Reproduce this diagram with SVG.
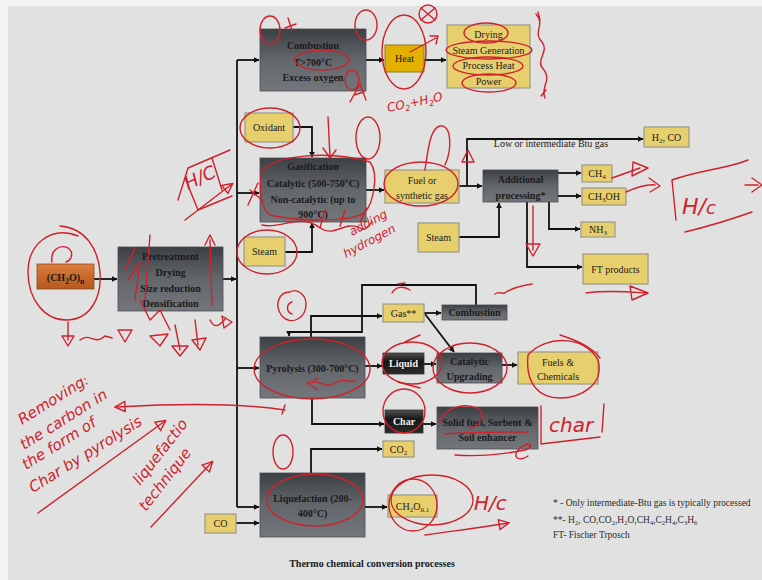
<svg xmlns="http://www.w3.org/2000/svg" width="762" height="580" viewBox="0 0 762 580">
<defs>
<linearGradient id="gDark" x1="0" y1="0" x2="0" y2="1">
<stop offset="0" stop-color="#3c4045"/>
<stop offset="0.5" stop-color="#63676c"/>
<stop offset="1" stop-color="#73777b"/>
</linearGradient>
<linearGradient id="gBlack" x1="0" y1="0" x2="0" y2="1">
<stop offset="0" stop-color="#505050"/>
<stop offset="0.4" stop-color="#161616"/>
<stop offset="1" stop-color="#2c2c2c"/>
</linearGradient>
<linearGradient id="gOrange" x1="0" y1="0" x2="0" y2="1">
<stop offset="0" stop-color="#dd8040"/>
<stop offset="0.5" stop-color="#c9692b"/>
<stop offset="1" stop-color="#b55a22"/>
</linearGradient>
<marker id="ah" viewBox="0 0 10 10" refX="9" refY="5" markerWidth="6" markerHeight="6" markerUnits="userSpaceOnUse" orient="auto">
<path d="M0,0 L10,5 L0,10 z" fill="#111"/>
</marker>
<marker id="rh" viewBox="0 0 12 12" refX="10" refY="6" markerWidth="12" markerHeight="12" markerUnits="userSpaceOnUse" orient="auto">
<path d="M1,1 L11,6 L1,11 z" fill="none" stroke="#d0212b" stroke-width="1.4"/>
</marker>
</defs>
<style>
.dk{fill:url(#gDark);stroke:#4a4d52;stroke-width:0.8}
.bk{fill:url(#gBlack);stroke:#333;stroke-width:0.8}
.yl{fill:#e8cf6d;stroke:#9a9888;stroke-width:1.2}
.t{font-family:"Liberation Serif","Times New Roman",serif;font-size:10px;text-anchor:middle;fill:#1a1a1a}
.b{font-weight:bold}
.w{fill:#f2f2f2}
.c{fill:none;stroke:#111;stroke-width:1.8;marker-end:url(#ah)}
.ln{fill:none;stroke:#111;stroke-width:1.8}
.r{fill:none;stroke:#d0212b;stroke-width:1.4;stroke-linecap:round;stroke-linejoin:round}
.ra{fill:none;stroke:#d0212b;stroke-width:1.4;stroke-linecap:round;marker-end:url(#rh)}
.rt{font-family:"DejaVu Sans","Liberation Sans",sans-serif;fill:#d0212b;font-style:italic}
.fn{font-family:"Liberation Serif","Times New Roman",serif;font-size:9.5px;fill:#2a2a2a}
</style>
<rect x="0" y="0" width="762" height="580" fill="#f4f4f4"/>
<rect x="8" y="6" width="754" height="574" fill="#e1e1e1"/>

<g id="connectors">
<path class="c" d="M94,279 H117"/>
<path class="c" d="M223,279 H236"/>
<path class="ln" d="M237,60 V507"/>
<path class="c" d="M237,60 H259"/>
<path class="c" d="M237,193 H259"/>
<path class="c" d="M237,368 H259"/>
<path class="c" d="M237,507 H259"/>
<path class="c" d="M236,523 H259"/>
<path class="c" d="M366,60 H384"/>
<path class="c" d="M424,60 H446"/>
<path class="c" d="M293,127 H312 V157"/>
<path class="c" d="M285,252 H312 V223"/>
<path class="c" d="M366,190 H384"/>
<path class="c" d="M459,186 H482"/>
<path class="c" d="M467,186 V139 H643"/>
<path class="c" d="M558,173 H581"/>
<path class="c" d="M558,196 H581"/>
<path class="c" d="M549,202 V229 H580"/>
<path class="c" d="M527,202 V267 H582"/>
<path class="c" d="M459,237 H499 V203"/>
<path class="c" d="M311,337 V316 H382"/>
<path class="c" d="M476,305 V285 H362 V332 H289 V336"/>
<path class="c" d="M424,313 H441"/>
<path class="c" d="M425,314 L454,352"/>
<path class="c" d="M365,366 H382"/>
<path class="c" d="M424,364 H436"/>
<path class="c" d="M502,365 H517"/>
<path class="c" d="M312,398 V424 H384"/>
<path class="c" d="M423,424 H436"/>
<path class="c" d="M311,473 V449 H382"/>
<path class="c" d="M365,507 H387"/>
</g>

<g id="feed"><rect x="37" y="264" width="57" height="25" fill="url(#gOrange)" stroke="#8a4a1c" stroke-width="0.8"/>
<text class="t b" x="65.5" y="281" font-size="11">(CH<tspan font-size="7.5" dy="2.5">2</tspan><tspan dy="-2.5">O)</tspan><tspan font-size="7.5" dy="2.5">n</tspan></text></g>
<g id="pretreatment"><rect class="dk" x="118" y="247" width="105" height="64"/>
<text class="t b" x="170.5" y="260">Pretreatment</text><text class="t b" x="170.5" y="276">Drying</text><text class="t b" x="170.5" y="291.5">Size reduction</text><text class="t b" x="170.5" y="307">Densification</text></g>
<g id="combustion"><rect class="dk" x="260" y="29" width="106" height="62"/>
<text class="t b" x="313" y="49">Combustion</text><text class="t b" x="313" y="65.5">T&gt;700°C</text><text class="t b" x="313" y="81">Excess oxygen</text></g>
<g id="heat"><rect x="385" y="45" width="39" height="27" fill="#e2b000" stroke="#8c7a20" stroke-width="1"/><text class="t" x="404.5" y="62">Heat</text></g>
<g id="uses"><rect class="yl" x="447" y="25" width="83" height="63"/>
<text class="t" x="488.5" y="38">Drying</text><text class="t" x="488.5" y="54">Steam Generation</text><text class="t" x="488.5" y="68.5">Process Heat</text><text class="t" x="488.5" y="85">Power</text></g>
<g id="oxidant"><rect class="yl" x="245" y="113" width="48" height="29"/><text class="t" x="269" y="131">Oxidant</text></g>
<g id="gasification"><rect class="dk" x="260" y="158" width="106" height="64"/>
<text class="t b" x="313" y="170">Gasification</text><text class="t b" x="313" y="187">Catalytic (500-750°C)</text><text class="t b" x="313" y="203">Non-catalytic (up to</text><text class="t b" x="313" y="218">900°C)</text></g>
<g id="steam1"><rect class="yl" x="244" y="237" width="41" height="29"/><text class="t" x="264.5" y="255">Steam</text></g>
<g id="fuelgas"><rect class="yl" x="385" y="170" width="74" height="33"/><text class="t" x="422" y="184">Fuel or</text><text class="t" x="422" y="199">synthetic gas</text></g>
<g id="additional"><rect class="dk" x="483" y="170" width="75" height="32"/><text class="t b" x="520.5" y="183">Additional</text><text class="t b" x="520.5" y="198.5">processing*</text></g>
<g id="h2co"><rect class="yl" x="644" y="127" width="45" height="20"/><text class="t" x="666.5" y="141">H<tspan font-size="7" dy="2">2</tspan><tspan dy="-2">, CO</tspan></text></g>
<g id="ch4"><rect class="yl" x="582" y="165" width="30" height="17"/><text class="t" x="597" y="177">CH<tspan font-size="7" dy="2">4</tspan></text></g>
<g id="ch3oh"><rect class="yl" x="582" y="188" width="44" height="17"/><text class="t" x="604" y="200">CH<tspan font-size="7" dy="2">3</tspan><tspan dy="-2">OH</tspan></text></g>
<g id="nh3"><rect class="yl" x="581" y="222" width="34" height="15"/><text class="t" x="598" y="233">NH<tspan font-size="7" dy="2">3</tspan></text></g>
<g id="ft"><rect class="yl" x="583" y="254" width="65" height="30"/><text class="t" x="615.5" y="273">FT products</text></g>
<g id="steam2"><rect class="yl" x="418" y="223" width="41" height="29"/><text class="t" x="438.5" y="241">Steam</text></g>
<g id="pyrolysis"><rect class="dk" x="260" y="337" width="105" height="61"/><text class="t b" x="312.5" y="372">Pyrolysis (300-700°C)</text></g>
<g id="gas"><rect class="yl" x="383" y="304" width="41" height="18"/><text class="t" x="403.5" y="317">Gas**</text></g>
<g id="combustion2"><rect class="dk" x="442" y="305" width="65" height="15"/><text class="t b" x="474.5" y="316">Combustion</text></g>
<g id="liquid"><rect class="bk" x="383" y="353" width="41" height="21"/><text class="t b w" x="403.5" y="367">Liquid</text></g>
<g id="upgrading"><rect class="dk" x="437" y="353" width="65" height="30"/><text class="t b" x="469.5" y="365">Catalytic</text><text class="t b" x="469.5" y="380">Upgrading</text></g>
<g id="fuels"><rect class="yl" x="518" y="352" width="80" height="32"/><text class="t" x="558" y="365.5">Fuels &amp;</text><text class="t" x="558" y="380">Chemicals</text></g>
<g id="char"><rect class="bk" x="385" y="410" width="38" height="23"/><text class="t b w" x="404" y="425">Char</text></g>
<g id="solid"><rect class="dk" x="437" y="407" width="101" height="42"/><text class="t b" x="487.5" y="426">Solid fuel, Sorbent &amp;</text><text class="t b" x="487.5" y="441">Soil enhancer</text></g>
<g id="co2"><rect class="yl" x="383" y="441" width="31" height="16"/><text class="t" x="398.5" y="453">CO<tspan font-size="7" dy="2">2</tspan></text></g>
<g id="liquefaction"><rect class="dk" x="260" y="473" width="105" height="64"/><text class="t b" x="312.5" y="502">Liquefaction (200-</text><text class="t b" x="312.5" y="517">400°C)</text></g>
<g id="co"><rect class="yl" x="205" y="514" width="31" height="19"/><text class="t" x="220.5" y="527">CO</text></g>
<g id="ch2o01"><rect class="yl" x="388" y="495" width="49" height="22"/><text class="t" x="412.5" y="510">CH<tspan font-size="7" dy="2">2</tspan><tspan dy="-2">O</tspan><tspan font-size="7" dy="2">0.1</tspan></text></g>

<g id="labels">
<text class="t" x="551" y="147" font-size="9.5" fill="#444">Low or intermediate Btu gas</text>
<text class="fn" x="553" y="506">*  - Only intermediate-Btu gas is typically processed</text>
<text class="fn" x="553" y="523">**- H<tspan font-size="6.5" dy="2">2</tspan><tspan dy="-2">, CO,CO</tspan><tspan font-size="6.5" dy="2">2</tspan><tspan dy="-2">,H</tspan><tspan font-size="6.5" dy="2">2</tspan><tspan dy="-2">O,CH</tspan><tspan font-size="6.5" dy="2">4</tspan><tspan dy="-2">,C</tspan><tspan font-size="6.5" dy="2">2</tspan><tspan dy="-2">H</tspan><tspan font-size="6.5" dy="2">4</tspan><tspan dy="-2">,C</tspan><tspan font-size="6.5" dy="2">3</tspan><tspan dy="-2">H</tspan><tspan font-size="6.5" dy="2">6</tspan></text>
<text class="fn" x="553" y="538">FT- Fischer Trposch</text>
<text class="t b" x="372" y="567" font-size="13">Thermo chemical conversion processes</text>
</g>

<g id="annotations">
<path class="r" d="M78,236 C50,225 28,245 28,272 C28,300 45,320 66,320 C90,320 102,298 100,272 C98,248 85,228 60,226"/>
<path class="r" d="M52,262 C50,250 60,244 68,248 C74,252 72,260 66,262"/>
<path class="r" d="M68,322 V340 M62,336 L68,346 L74,336 Z M80,340 C90,332 95,346 105,336 L112,338 M118,330 L125,342 L132,330 Z M140,300 L150,320 L160,310 L170,330 M150,336 L160,346 L168,334 Z M175,325 L180,350 M172,346 L180,356 L188,346 Z M195,320 L198,345 M192,340 L200,350 L206,338 Z M210,320 C215,330 220,325 226,318 M222,316 L232,322 L224,328 Z"/>
<path class="r" d="M125,270 L135,248 M128,280 L140,262 L135,300 M150,235 L145,300 M210,240 L212,305 M205,245 L210,235 L215,245"/>
<ellipse class="r" cx="270" cy="30" rx="10" ry="14"/>
<ellipse class="r" cx="366" cy="25" rx="11" ry="15"/>
<path class="r" d="M288,18 L292,30 M285,28 L296,24"/>
<ellipse class="r" cx="322" cy="60" rx="27" ry="10"/>
<ellipse class="r" cx="352" cy="80" rx="7" ry="10"/>
<path class="r" d="M350,102 L360,84 L366,100 M354,95 L364,92"/>
<ellipse class="r" cx="404" cy="52" rx="22" ry="37"/>
<circle class="r" cx="428" cy="14" r="9"/>
<path class="r" d="M421,8 L435,20 M435,8 L421,20 M410,52 L436,38 M430,36 L438,36 L436,44"/>
<text class="rt" x="388" y="112" font-size="12" transform="rotate(-12 388 112)">CO<tspan font-size="8" dy="3">2</tspan><tspan dy="-3">+H</tspan><tspan font-size="8" dy="3">2</tspan><tspan dy="-3">O</tspan></text>
<ellipse class="r" cx="486" cy="33" rx="22" ry="10"/>
<ellipse class="r" cx="489" cy="50" rx="43" ry="9"/>
<ellipse class="r" cx="488" cy="66" rx="35" ry="9"/>
<ellipse class="r" cx="489" cy="83" rx="27" ry="9"/>
<path class="r" d="M536,14 C546,25 532,32 542,42 C550,52 534,60 544,70 C552,80 540,88 545,98 M538,12 L540,20 M541,96 L546,90"/>
<ellipse class="r" cx="270" cy="128" rx="30" ry="20"/>
<path class="r" d="M328,117 L330,157 M323,148 L330,158 L336,150"/>
<ellipse class="r" cx="368" cy="138" rx="12" ry="21"/>
<path class="r" d="M262,172 C270,155 330,150 370,162 C380,175 372,205 365,212 C355,222 300,222 270,215 C262,210 258,190 262,172"/>
<path class="r" d="M262,225 C280,230 300,212 320,228 C335,238 345,220 360,228 C365,232 368,226 372,222 M320,228 L325,210 M340,226 L345,210 M360,222 L367,208"/>
<path class="r" d="M248,205 L258,183 M250,190 L262,200"/>
<ellipse class="r" cx="267" cy="252" rx="30" ry="22"/>
<text class="rt" x="352" y="236" font-size="12" transform="rotate(-28 352 236)">adding</text>
<text class="rt" x="346" y="258" font-size="12" transform="rotate(-28 346 258)">hydrogen</text>
<path class="r" d="M178,200 L188,168 L230,150 M185,178 L198,210 L232,196 M212,158 L222,190"/>
<text class="rt" x="188" y="190" font-size="18" font-style="normal" transform="rotate(-25 188 190)">H/C</text>
<path class="ra" d="M185,220 L232,184"/>
<ellipse class="r" cx="421" cy="184" rx="37" ry="22"/>
<path class="r" d="M425,170 C428,150 430,128 440,126 C452,124 452,150 445,165"/>
<path class="r" d="M462,162 L468,150 L474,162 Z"/>
<path class="r" d="M612,178 L640,168 M626,192 C640,186 648,184 655,185"/>
<path class="r" d="M633,162 L648,168 L632,176 Z M649,178 L660,186 L650,192"/>
<path class="r" d="M672,180 L676,220 M672,180 C700,170 730,168 748,160 M685,232 C710,226 735,218 752,212 M745,185 L758,185 M752,178 L762,185 L752,192"/>
<text class="rt" x="682" y="214" font-size="22" font-style="normal">H/<tspan font-size="18">c</tspan></text>
<path class="r" d="M533,206 V250 M526,244 L533,256 L540,244 Z"/>
<path class="r" d="M586,293 C610,290 630,292 645,293 M630,286 L648,293 L632,300 Z"/>
<path class="r" d="M495,294 C500,290 503,296 506,292 C515,287 525,285 532,284"/>
<path class="r" d="M392,293 C396,286 404,286 410,290 M398,284 L405,283"/>
<path class="r" d="M290,292 C278,292 274,306 282,316 C292,326 306,318 306,304 C306,294 296,288 290,292 M292,302 C286,304 286,312 292,314"/>
<ellipse class="r" cx="312" cy="369" rx="58" ry="30"/>
<path class="r" d="M308,383 C320,378 325,390 335,383 C345,376 350,385 356,380 M318,378 L308,384 L318,390"/>
<ellipse class="r" cx="412" cy="363" rx="30" ry="21"/>
<path class="r" d="M405,342 L420,335 M398,382 L420,388"/>
<ellipse class="r" cx="470" cy="368" rx="37" ry="25"/>
<path class="r" d="M528,355 C545,335 585,335 598,360 C605,385 580,398 560,398 C540,398 525,385 528,355 M560,335 C575,340 590,345 600,358"/>
<path class="ra" d="M285,410 C240,403 170,404 116,407"/>
<path class="r" d="M282,414 L285,405"/>
<text class="rt" x="22" y="425" font-size="15" transform="rotate(-32 22 425)">Removing<tspan font-size="12">:</tspan></text>
<text class="rt" x="24" y="450" font-size="15" transform="rotate(-32 24 450)">the carbon in</text>
<text class="rt" x="26" y="470" font-size="15" transform="rotate(-32 26 470)">the form of</text>
<text class="rt" x="33" y="493" font-size="15" transform="rotate(-32 33 493)">Char by pyrolysis</text>
<path class="ra" d="M38,513 L165,421"/>
<text class="rt" x="140" y="486" font-size="15" transform="rotate(-52 140 486)">liquefactio</text>
<text class="rt" x="146" y="512" font-size="15" transform="rotate(-52 146 512)">technique</text>
<path class="ra" d="M151,527 L212,462"/>
<ellipse class="r" cx="283" cy="452" rx="10" ry="17"/>
<ellipse class="r" cx="315" cy="500" rx="48" ry="26"/>
<ellipse class="r" cx="404" cy="411" rx="21" ry="22"/>
<path class="r" d="M440,422 C445,405 470,402 480,410 C485,415 482,425 470,428 M445,434 C470,432 510,432 528,432"/>
<path class="r" d="M455,455 C480,457 500,455 525,450 C535,447 530,440 520,448 C510,458 520,462 528,456"/>
<path class="r" d="M541,406 L541,444 L600,437 M604,404 L602,432"/>
<text class="rt" x="549" y="432" font-size="20" font-style="normal">char</text>
<ellipse class="r" cx="413" cy="505" rx="24" ry="26"/>
<ellipse class="r" cx="432" cy="500" rx="41" ry="25"/>
<text class="rt" x="474" y="510" font-size="20" font-style="normal">H/c</text>
<path class="ra" d="M425,535 C460,530 485,527 508,523"/>
</g>
</svg>
